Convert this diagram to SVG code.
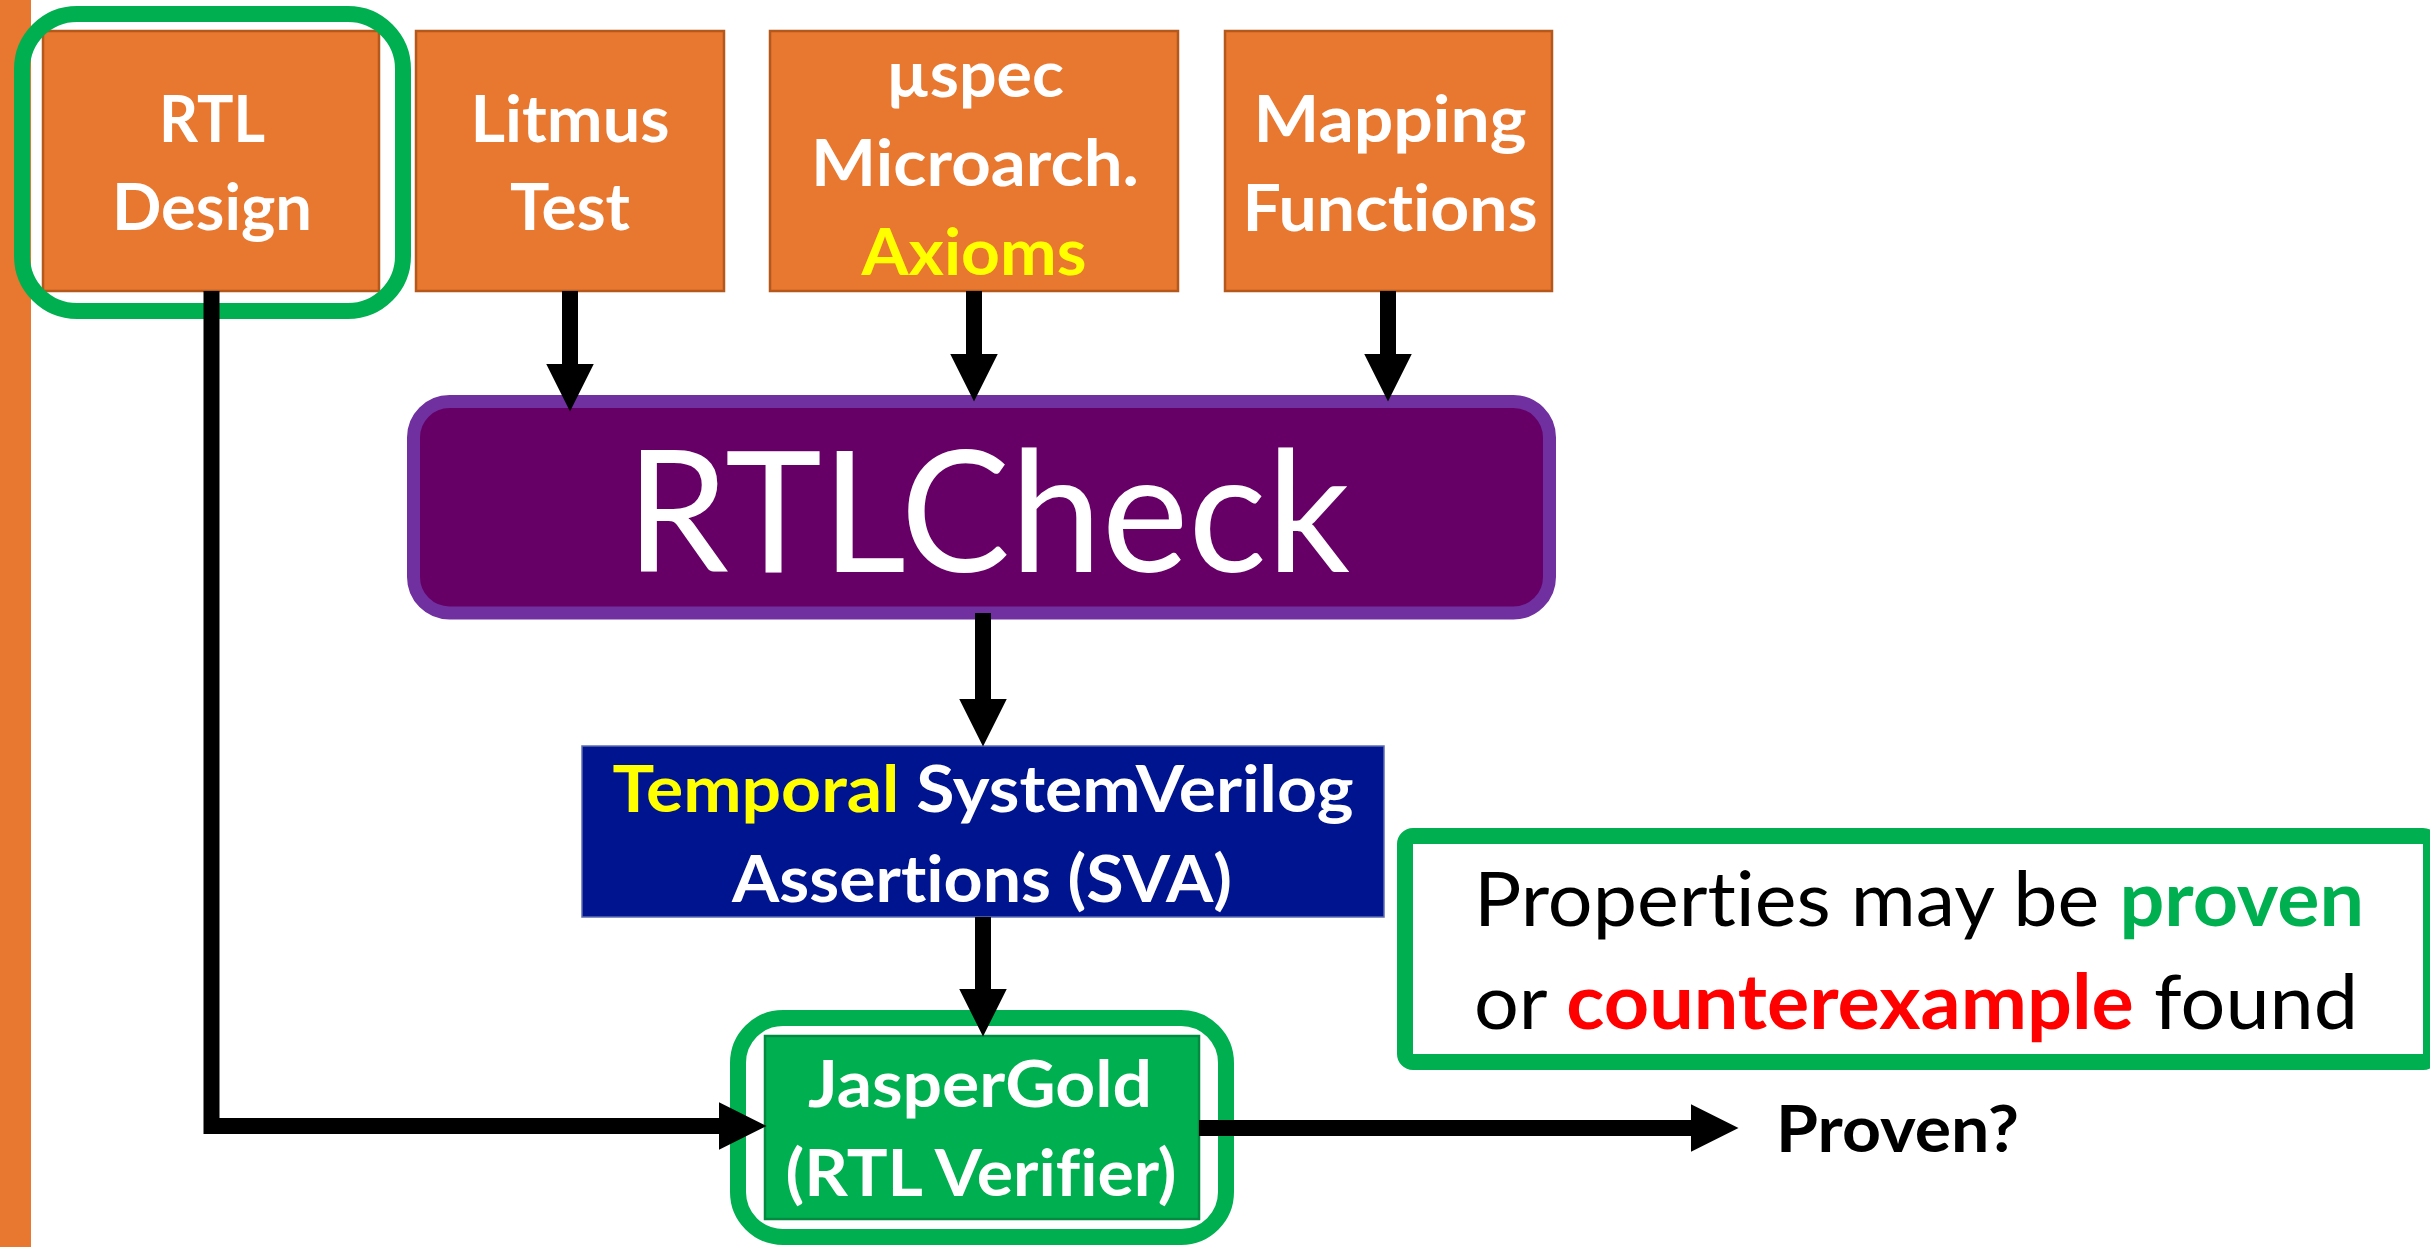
<svg xmlns="http://www.w3.org/2000/svg" width="2430" height="1247" viewBox="0 0 2430 1247">
  <defs>
    <style>
      text { font-variant-ligatures: none; }
      .box-orange { fill: #E8772F; stroke: #B4581C; stroke-width: 2.5; }
      .lbl { font-family: Lato, "Liberation Sans", sans-serif; font-weight: 700; font-size: 65px; fill: #FFFFFF; text-anchor: middle; }
      .yel { fill: #FFFF00; }
      .ring { fill: none; stroke: #00B050; stroke-width: 16; }
      .wire { fill: none; stroke: #000000; stroke-width: 16; stroke-linejoin: miter; marker-end: url(#head); }
      .note { font-family: Lato, "Liberation Sans", sans-serif; font-size: 76px; fill: #000000; }
    </style>
    <marker id="head" viewBox="0 0 48 48" refX="0.5" refY="24" markerWidth="48" markerHeight="48" markerUnits="userSpaceOnUse" orient="auto">
      <path d="M0,0 L48,24 L0,48 Z" fill="#000000"/>
    </marker>
  </defs>

  <!-- slide accent bar -->
  <rect x="0" y="0" width="31" height="1247" fill="#E8772F"/>

  <!-- input nodes -->
  <g id="rtl-design">
    <rect class="box-orange" x="43" y="31" width="336" height="260"/>
    <text class="lbl" x="212" y="142" textLength="106" lengthAdjust="spacingAndGlyphs">RTL</text>
    <text class="lbl" x="212" y="230" textLength="200" lengthAdjust="spacingAndGlyphs">Design</text>
    <rect class="ring" x="22" y="14" width="381" height="297" rx="55" ry="55"/>
  </g>

  <g id="litmus-test">
    <rect class="box-orange" x="416" y="31" width="308" height="260"/>
    <text class="lbl" x="570" y="142" textLength="199" lengthAdjust="spacingAndGlyphs">Litmus</text>
    <text class="lbl" x="570" y="230" textLength="120" lengthAdjust="spacingAndGlyphs">Test</text>
  </g>

  <g id="uspec-axioms">
    <rect class="box-orange" x="770" y="31" width="408" height="260"/>
    <text class="lbl" x="975" y="97" textLength="178" lengthAdjust="spacingAndGlyphs">µspec</text>
    <text class="lbl" x="975" y="186" textLength="328" lengthAdjust="spacingAndGlyphs">Microarch.</text>
    <text class="lbl yel" x="974" y="275" textLength="225" lengthAdjust="spacingAndGlyphs">Axioms</text>
  </g>

  <g id="mapping-functions">
    <rect class="box-orange" x="1225" y="31" width="327" height="260"/>
    <text class="lbl" x="1390" y="142" textLength="273" lengthAdjust="spacingAndGlyphs">Mapping</text>
    <text class="lbl" x="1390" y="231" textLength="295" lengthAdjust="spacingAndGlyphs">Functions</text>
  </g>

  <!-- tool -->
  <g id="rtlcheck">
    <rect x="413.5" y="401.5" width="1136" height="211.5" rx="36" ry="36" fill="#660066" stroke="#7030A0" stroke-width="13"/>
    <text x="988" y="572" font-family="Lato, 'Liberation Sans', sans-serif" font-size="169" fill="#FFFFFF" text-anchor="middle" textLength="724" lengthAdjust="spacingAndGlyphs">RTLCheck</text>
  </g>

  <g id="sva">
    <rect x="582" y="746" width="802" height="171" fill="#00148F" stroke="#5F6DB0" stroke-width="1.5"/>
    <text class="lbl" x="983" y="812" textLength="741" lengthAdjust="spacingAndGlyphs"><tspan class="yel">Temporal</tspan> SystemVerilog</text>
    <text class="lbl" x="982" y="902" textLength="500" lengthAdjust="spacingAndGlyphs">Assertions (SVA)</text>
  </g>

  <g id="jaspergold">
    <rect x="765" y="1036" width="434" height="183" fill="#00B050" stroke="#008C40" stroke-width="2.5"/>
    <text class="lbl" x="980" y="1107" textLength="344" lengthAdjust="spacingAndGlyphs">JasperGold</text>
    <text class="lbl" x="981" y="1196" textLength="391" lengthAdjust="spacingAndGlyphs">(RTL Verifier)</text>
    <rect class="ring" x="738" y="1018" width="488" height="219" rx="45" ry="45"/>
  </g>

  <g id="properties-note">
    <rect x="1405" y="836" width="1026" height="226" rx="8" ry="8" fill="#FFFFFF" stroke="#00B050" stroke-width="16"/>
    <text class="note" x="1474" y="926" textLength="890" lengthAdjust="spacingAndGlyphs">Properties may be <tspan font-weight="700" fill="#00B050">proven</tspan></text>
    <text class="note" x="1474" y="1029" textLength="884" lengthAdjust="spacingAndGlyphs">or <tspan font-weight="700" fill="#FF0000">counterexample</tspan> found</text>
  </g>

  <g id="proven-result">
    <text x="1776" y="1152" font-family="Lato, 'Liberation Sans', sans-serif" font-weight="700" font-size="65" fill="#000000" textLength="243" lengthAdjust="spacingAndGlyphs">Proven?</text>
  </g>

  <!-- connectors -->
  <g id="connectors">
    <path class="wire" d="M570,291 V364"/>
    <path class="wire" d="M974,291 V354"/>
    <path class="wire" d="M1388,291 V354"/>
    <path class="wire" d="M983,613 V699"/>
    <path class="wire" d="M983,917 V989"/>
    <path class="wire" d="M211.5,291 V1126 H719"/>
    <path class="wire" d="M1199,1128 H1691"/>
  </g>
</svg>
